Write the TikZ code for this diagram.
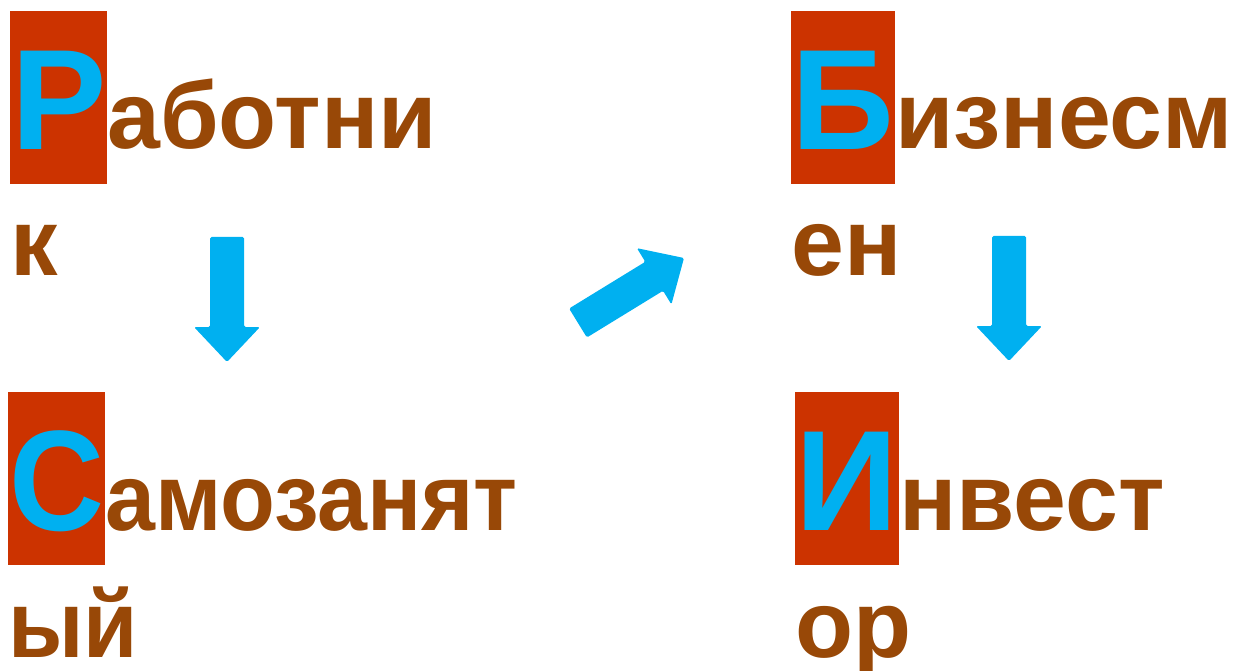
\documentclass[tikz,border=0pt]{standalone}
\usepackage{fontspec}
\setmainfont{Liberation Sans}
\usetikzlibrary{calc}
\definecolor{boxred}{HTML}{CC3300}
\definecolor{letterblue}{HTML}{00B0F0}
\definecolor{wordbrown}{HTML}{984807}
\tikzset{
  initial/.style={anchor=north west, inner sep=0pt, fill=boxred, text=letterblue,
    font=\fontsize{143}{172}\selectfont\bfseries, text height=138pt, text depth=35pt,
    align=center},
  rest/.style={anchor=base west, inner sep=0pt, text=wordbrown,
    font=\fontsize{95}{114}\selectfont\bfseries},
  arrowfill/.style={fill=letterblue, rounded corners=1.5pt}
}
\newcommand{\blockarrow}[2]{%
  \coordinate (hb) at ($(#2)!35pt!(#1)$);
  \fill[arrowfill] ($(#1)!17pt!90:(#2)$) -- ($(#1)!17pt!-90:(#2)$)
    -- ($(hb)!17pt!-90:(#2)$) -- ($(hb)!33pt!-90:(#2)$) -- (#2)
    -- ($(hb)!33pt!90:(#2)$) -- ($(hb)!17pt!90:(#2)$) -- cycle;
}
\begin{document}
\begin{tikzpicture}[x=1pt,y=-1pt]
\useasboundingbox (0,0) rectangle (1237,671);
% Word 1
\node[initial, text width=97pt] (r1) at (10,11) {Р};
\node[rest] (r2) at (107,149) {аботни};
\node[rest] (r3) at (10,276) {к};
% Word 2
\node[initial, text width=97pt] (s1) at (8,392) {\scalebox{0.92}[1]{С}};
\node[rest] (s2) at (105,530) {\scalebox{0.945}[1]{амозанят}};
\node[rest] (s3) at (8,657) {\scalebox{0.93}[1]{ый}};
% Word 3
\node[initial, text width=104pt] (b1) at (791,11) {Б};
\node[rest] (b2) at (895,149) {изнесм};
\node[rest] (b3) at (791,276) {ен};
% Word 4
\node[initial, text width=104pt] (i1) at (795,392) {И};
\node[rest] (i2) at (899,530) {нвест};
\node[rest] (i3) at (795,657) {ор};
% Arrows
\coordinate (a1s) at (227,237);
\coordinate (a1e) at (227,362);
\coordinate (a2s) at (578,323);
\coordinate (a2e) at (684,258);
\coordinate (a3s) at (1009,236);
\coordinate (a3e) at (1009,361);
\blockarrow{a1s}{a1e}
\blockarrow{a2s}{a2e}
\blockarrow{a3s}{a3e}
\end{tikzpicture}
\end{document}
